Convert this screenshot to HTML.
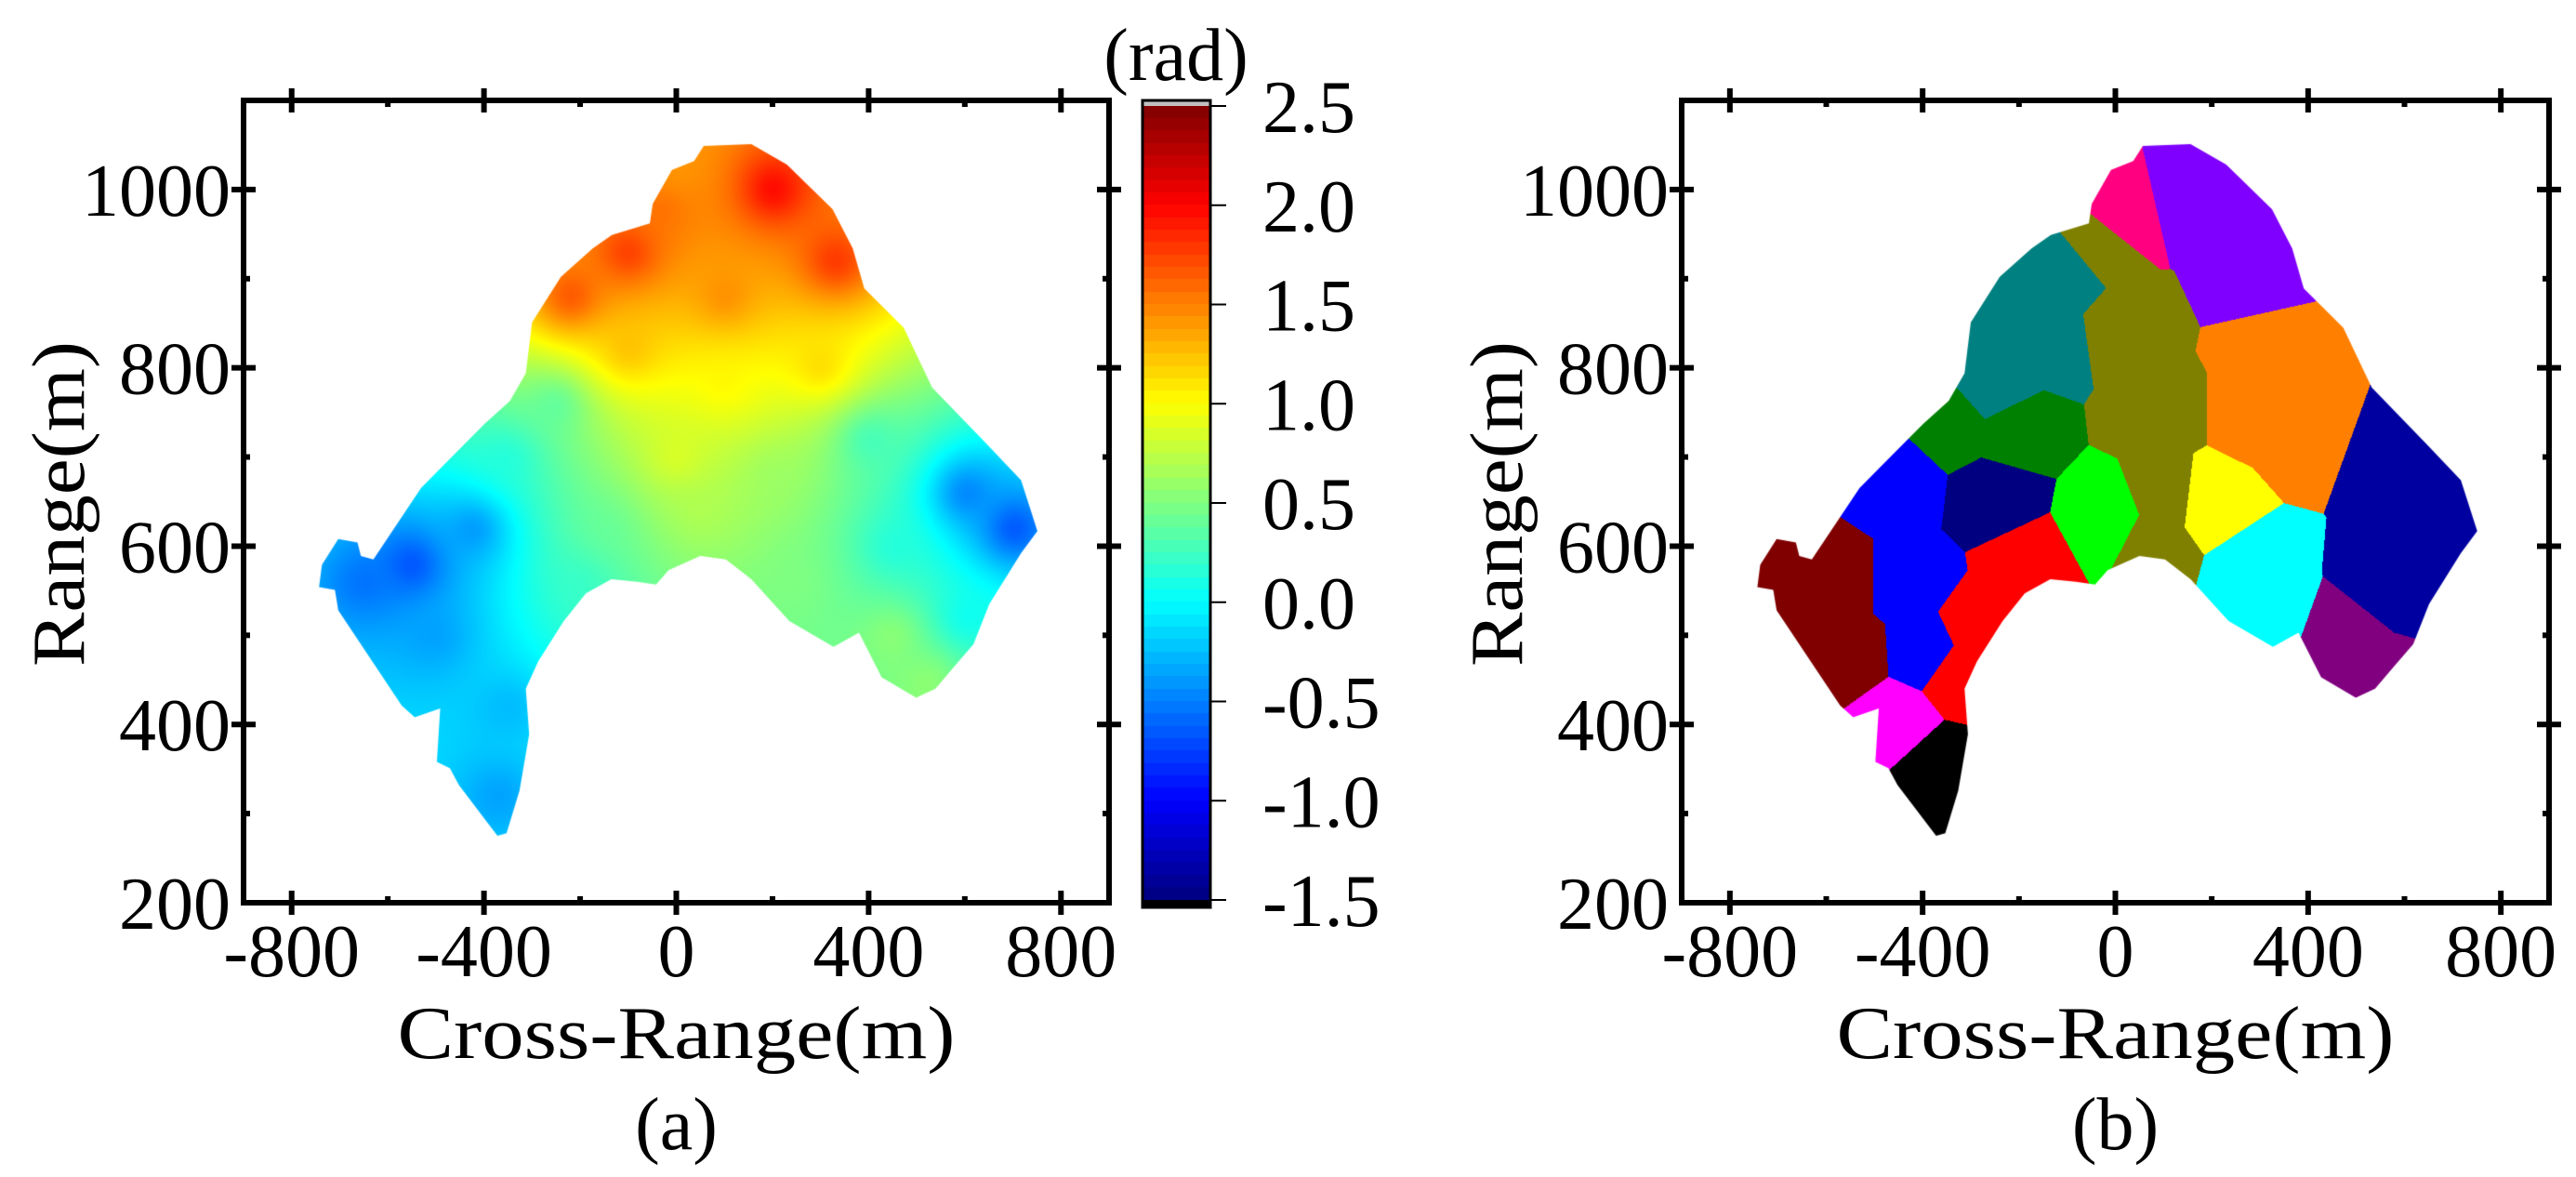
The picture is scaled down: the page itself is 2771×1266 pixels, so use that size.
<!DOCTYPE html>
<html><head><meta charset="utf-8">
<style>
html,body{margin:0;padding:0;background:#fff;}
#root{position:relative;width:2771px;height:1266px;overflow:hidden;background:#fff;font-family:"Liberation Serif",serif;}
canvas{position:absolute;}
svg{position:absolute;left:0;top:0;}
</style></head>
<body>
<div id="root">
<canvas id="cvA"></canvas>
<canvas id="cvB"></canvas>
<canvas id="cvC"></canvas>
<svg id="ov" width="2771" height="1266"></svg>
</div>
<script>
// ---------- data ----------
const xTicks=[-800,-400,0,400,800];
const yTicks=[200,400,600,800,1000];
const cbTicks=[2.5,2.0,1.5,1.0,0.5,0.0,-0.5,-1.0,-1.5];
const cbLabels=["2.5","2.0","1.5","1.0","0.5","0.0","-0.5","-1.0","-1.5"];
// outline of the imaged area (cross-range, range) in metres
const outlineX=[57,156,230,325,367,391,473,532,645,717,751,717,651,618,578,539,499,427,380,327,235,156,103,50,-16,-42,-82,-135,-188,-234,-287,-313,-306,-326,-353,-372,-452,-471,-498,-491,-544,-571,-703,-710,-743,-737,-703,-663,-656,-630,-531,-491,-399,-346,-313,-300,-240,-174,-134,-55,-49,-9,37];
const outlineY=[1049,1051,1028,978,934,889,845,778,715,674,617,592,535,490,465,440,430,453,503,487,516,563,585,589,573,557,560,563,547,516,471,440,389,326,278,275,332,351,358,418,408,421,528,551,554,579,608,604,589,585,665,687,737,763,794,851,902,934,949,962,984,1022,1032];
// phase control points (m, m, rad)
const phX=[0,200,330,-100,-220,100,-100,100,300,-250,-350,0,200,400,600,700,450,-550,-650,-500,-150,50,250,450,520,-350,-370,-200,600,-30,-420];
const phY=[1020,1000,920,930,880,880,820,780,800,760,700,700,680,720,660,620,600,580,560,500,620,640,560,500,450,420,320,560,520,980,620];
const phV=[1.4,2.1,1.9,1.9,1.8,1.5,1.3,1.05,1.2,0.3,0.1,0.9,0.6,0.2,-0.6,-0.8,0.1,-0.8,-0.6,-0.4,0.4,0.7,0.5,0.6,0.6,-0.3,-0.4,0.2,0.0,1.6,-0.5];
// segmentation regions
const regColors=["#ff0080","#8000ff","#008080","#808000","#ff8000","#008000","#0000ff","#000080","#00ff00","#ffff00","#00ffff","#0000a0","#800080","#800000","#ff0000","#ff00ff","#000000"];
const seedX=[11,156,275,-148,-254,-108,-36,24,90,103,77,314,367,288,-214,-333,-452,-425,-392,-254,-16,196,288,314,592,565,473,512,-584,-558,-676,-188,-293,-326,-458,-372,-359];
const seedY=[972,990,908,832,775,908,940,845,750,655,604,813,731,750,731,737,668,560,484,655,630,649,573,528,687,560,497,459,560,478,579,579,509,459,402,351,294];
const seedR=[0,1,1,2,2,2,3,3,3,3,3,4,4,4,5,5,6,6,6,7,8,9,10,10,11,11,12,12,13,13,13,14,14,14,15,16,16];

// ---------- layout ----------
const PA={l:262,r:1193,t:108,b:971};
const PB={l:1809,r:2742,t:108,b:971};
const XMIN=-900,XMAX=900,YMIN=200,YMAX=1100;
function sx(P,x){return P.l+(x-XMIN)/(XMAX-XMIN)*(P.r-P.l);}
function sy(P,y){return P.t+(YMAX-y)/(YMAX-YMIN)*(P.b-P.t);}
const CB={l:1229,r:1302,t:114,b:968,vmax:2.5,vmin:-1.5};
function cy(v){return CB.t+(CB.vmax-v)/(CB.vmax-CB.vmin)*(CB.b-CB.t);}

function jet(t){t=Math.max(0,Math.min(1,t));
 const c=a=>Math.round(255*Math.max(0,Math.min(1,a)));
 return [c(1.5-Math.abs(4*t-3)),c(1.5-Math.abs(4*t-2)),c(1.5-Math.abs(4*t-1))];}

function clipOutline(ctx,P){
 ctx.globalCompositeOperation='destination-in';
 ctx.beginPath();
 for(let i=0;i<outlineX.length;i++){const X=sx(P,outlineX[i])-P.l,Y=sy(P,outlineY[i])-P.t; i?ctx.lineTo(X,Y):ctx.moveTo(X,Y);}
 ctx.closePath();ctx.fillStyle='#000';ctx.fill();
 ctx.globalCompositeOperation='source-over';
}

// phase map
(function(){
 const P=PA,c=document.getElementById('cvA');const W=P.r-P.l,H=P.b-P.t;
 c.width=W;c.height=H;c.style.left=P.l+'px';c.style.top=P.t+'px';
 const ctx=c.getContext('2d');const img=ctx.createImageData(W,H);
 const px=phX.map(x=>sx(P,x)-P.l),py=phY.map(y=>sy(P,y)-P.t);
 for(let j=0;j<H;j++)for(let i=0;i<W;i++){
  let sw=0,sv=0;
  for(let k=0;k<px.length;k++){const dx=i-px[k],dy=j-py[k];const d=dx*dx+dy*dy+400;const w=1/d;sw+=w;sv+=w*phV[k];}
  const v=sv/sw;const col=jet((v-CB.vmin)/(CB.vmax-CB.vmin));
  const o=(j*W+i)*4;img.data[o]=col[0];img.data[o+1]=col[1];img.data[o+2]=col[2];img.data[o+3]=255;}
 ctx.putImageData(img,0,0);clipOutline(ctx,P);
})();

// segmentation map
(function(){
 const P=PB,c=document.getElementById('cvB');const W=P.r-P.l,H=P.b-P.t;
 c.width=W;c.height=H;c.style.left=P.l+'px';c.style.top=P.t+'px';
 const ctx=c.getContext('2d');const img=ctx.createImageData(W,H);
 const px=seedX.map(x=>sx(P,x)-P.l),py=seedY.map(y=>sy(P,y)-P.t);
 const rgb=regColors.map(h=>[parseInt(h.substr(1,2),16),parseInt(h.substr(3,2),16),parseInt(h.substr(5,2),16)]);
 for(let j=0;j<H;j++)for(let i=0;i<W;i++){
  let best=1e12,bk=0;
  for(let k=0;k<px.length;k++){const dx=i-px[k],dy=j-py[k];const d=dx*dx+dy*dy;if(d<best){best=d;bk=k;}}
  const col=rgb[seedR[bk]];const o=(j*W+i)*4;
  img.data[o]=col[0];img.data[o+1]=col[1];img.data[o+2]=col[2];img.data[o+3]=255;}
 ctx.putImageData(img,0,0);clipOutline(ctx,P);
})();

// colorbar
(function(){
 const c=document.getElementById('cvC');const W=CB.r-CB.l,H=CB.b-CB.t;
 c.width=W;c.height=H;c.style.left=CB.l+'px';c.style.top=CB.t+'px';
 const ctx=c.getContext('2d');const n=64;
 for(let k=0;k<n;k++){const t=1-k/n;const col=jet(t-0.5/n);
  ctx.fillStyle='rgb('+col.join(',')+')';ctx.fillRect(0,Math.floor(k*H/n),W,Math.ceil(H/n)+1);}
})();

// overlay
const NS='http://www.w3.org/2000/svg';const ov=document.getElementById('ov');
function el(tag,attrs,parent){const e=document.createElementNS(NS,tag);for(const k in attrs)e.setAttribute(k,attrs[k]);(parent||ov).appendChild(e);return e;}
function txt(s,attrs,parent){const e=el('text',Object.assign({'font-family':'Liberation Serif, serif','font-size':80,fill:'#000'},attrs),parent);e.textContent=s;return e;}

function axes(P,tag){
 const g=el('g',{});
 
 
 const f=el('rect',{x:P.l,y:P.t,width:P.r-P.l,height:P.b-P.t,fill:'none',stroke:'#000','stroke-width':6},g);
 
 
 for(let x=-800;x<=800;x+=200){const X=sx(P,x);const major=x%400===0;
  const L=major?13:7;
  el('line',{x1:X,x2:X,y1:P.b-L,y2:P.b+(major?13:0),stroke:'#000','stroke-width':6},g);
  el('line',{x1:X,x2:X,y1:P.t-(major?13:0),y2:P.t+L,stroke:'#000','stroke-width':6},g);}
 for(let y=300;y<=1100;y+=100){const Y=sy(P,y);const major=y%200===0;const L=major?13:7;
  el('line',{x1:P.l-(major?13:0),x2:P.l+L,y1:Y,y2:Y,stroke:'#000','stroke-width':6},g);
  el('line',{x1:P.r-L,x2:P.r+(major?13:0),y1:Y,y2:Y,stroke:'#000','stroke-width':6},g);}
 xTicks.forEach(v=>{const t=txt(String(v),{x:sx(P,v),y:1050,'text-anchor':'middle'},g);
  
  });
 yTicks.forEach(v=>{const t=txt(String(v),{x:P.l-14,y:sy(P,v)+28,'text-anchor':'end'},g);
  
  });
 const xt=txt('Cross-Range(m)',{x:(P.l+P.r)/2,y:1138,'text-anchor':'middle',textLength:600,lengthAdjust:'spacingAndGlyphs'},g);
 
 
 const cx=P.l-200;
 const yt=txt('Range(m)',{x:cx,y:542,'text-anchor':'middle',transform:'rotate(-90 '+cx+' 542)',dy:28,textLength:350,lengthAdjust:'spacingAndGlyphs'},g);
 
 
 const cap=txt('('+tag+')',{x:(P.l+P.r)/2,y:1236,'text-anchor':'middle'},g);
 
 
}
axes(PA,'a');axes(PB,'b');

// colorbar frame, ticks, labels
const cbg=el('g',{});


el('rect',{x:CB.l,y:108,width:CB.r-CB.l,height:6,fill:'#c0c0c0'},cbg);
el('rect',{x:CB.l,y:968,width:CB.r-CB.l,height:8,fill:'#000'},cbg);
el('rect',{x:CB.l,y:108,width:CB.r-CB.l,height:868,fill:'none',stroke:'#000','stroke-width':3},cbg);
cbTicks.forEach((v,i)=>{const Y=cy(v);
 el('line',{x1:CB.r,x2:CB.r+17,y1:Y,y2:Y,stroke:'#000','stroke-width':2},cbg);
 const t=txt(cbLabels[i],{x:1358,y:Y+28},cbg);
 
 });
const unit=txt('(rad)',{x:1265,y:86,'text-anchor':'middle'},cbg);


</script>
</body></html>
